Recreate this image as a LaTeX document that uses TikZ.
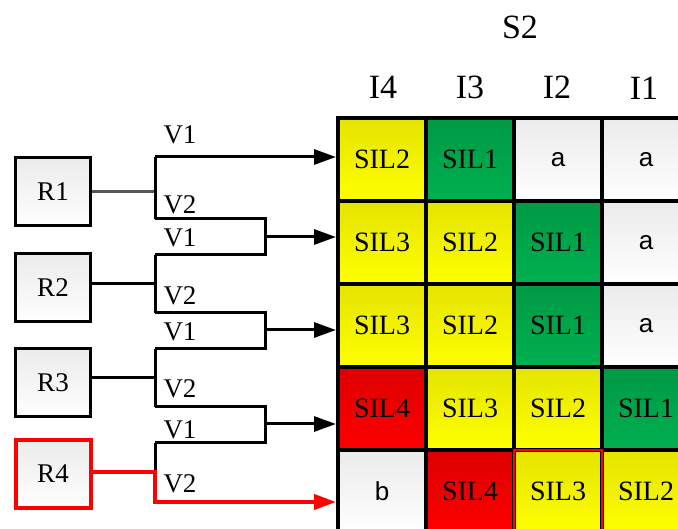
\documentclass[tikz,border=0pt]{standalone}
\usepackage{fontspec}
\setmainfont{Liberation Serif}
\newfontfamily\cellsans{Liberation Sans}
\usetikzlibrary{arrows.meta}

\definecolor{yeltop}{HTML}{E4E400}
\definecolor{yelbot}{HTML}{FFFF00}
\definecolor{grntop}{HTML}{009944}
\definecolor{grnbot}{HTML}{00B050}
\definecolor{redtop}{HTML}{DD0000}
\definecolor{redbot}{HTML}{FF0000}
\definecolor{gratop}{HTML}{EBEBEB}
\definecolor{wiregray}{HTML}{555555}

\tikzset{
  rbox/.style={draw, line width=3pt, top color=gratop, bottom color=white,
    minimum width=75pt, minimum height=68pt, inner sep=0pt,
    font=\fontsize{27}{31}\selectfont},
  cell/.style={draw, line width=3.5pt, minimum width=88pt, minimum height=83pt,
    inner sep=0pt, outer sep=0pt, font=\fontsize{28}{33}\selectfont},
  silY/.style={cell, top color=yeltop, bottom color=yelbot},
  silG/.style={cell, top color=grntop, bottom color=grnbot},
  silR/.style={cell, top color=redtop, bottom color=redbot},
  silW/.style={cell, top color=gratop, bottom color=white,
    font=\cellsans\fontsize{26}{30}\selectfont},
  wire/.style={line width=3pt},
  arr/.style={wire, -{Triangle[length=22pt,width=15pt]}},
  vlab/.style={font=\fontsize{27}{31}\selectfont},
  head/.style={font=\fontsize{34}{39}\selectfont}
}

\begin{document}
\begin{tikzpicture}[x=1pt,y=-1pt]
  \useasboundingbox (0,0) rectangle (678,529);
  \clip (0,0) rectangle (678,529);

  % Headers above the matrix
  \node[head] (s2) at (520,27) {S2};
  \node[head] (i4) at (383,87) {I4};
  \node[head] (i3) at (470,87) {I3};
  \node[head] (i2) at (557,87) {I2};
  \node[head] (i1) at (644,88) {I1};

  % Row 1
  \node[silY] (c11) at (382,159.5) {SIL2};
  \node[silG] (c12) at (470,159.5) {SIL1};
  \node[silW] (c13) at (558,159.5) {a};
  \node[silW] (c14) at (646,159.5) {a};
  % Row 2
  \node[silY] (c21) at (382,242.5) {SIL3};
  \node[silY] (c22) at (470,242.5) {SIL2};
  \node[silG] (c23) at (558,242.5) {SIL1};
  \node[silW] (c24) at (646,242.5) {a};
  % Row 3
  \node[silY] (c31) at (382,325.5) {SIL3};
  \node[silY] (c32) at (470,325.5) {SIL2};
  \node[silG] (c33) at (558,325.5) {SIL1};
  \node[silW] (c34) at (646,325.5) {a};
  % Row 4
  \node[silR] (c41) at (382,408.5) {SIL4};
  \node[silY] (c42) at (470,408.5) {SIL3};
  \node[silY] (c43) at (558,408.5) {SIL2};
  \node[silG] (c44) at (646,408.5) {SIL1};
  % Row 5
  \node[silW] (c51) at (382,491.5) {b};
  \node[silR] (c52) at (470,491.5) {SIL4};
  \node[silY] (c53) at (558,491.5) {SIL3};
  \node[silY] (c54) at (646,491.5) {SIL2};
  \draw[red, line width=2.5pt] (c53.north west) rectangle (c53.south east);

  % Rule boxes
  \node[rbox] (R1) at (53,192) {R1};
  \node[rbox] (R2) at (53,288) {R2};
  \node[rbox] (R3) at (53,383) {R3};
  \node[rbox, draw=red, line width=4pt] (R4) at (53,474) {R4};

  % Fork and merge points
  \coordinate (f1) at (155,192);
  \coordinate (f1t) at (155,157);
  \coordinate (f1b) at (155,219);
  \coordinate (f2) at (155,284);
  \coordinate (f2t) at (155,255);
  \coordinate (f2b) at (155,313);
  \coordinate (f3) at (155,378);
  \coordinate (f3t) at (155,349);
  \coordinate (f3b) at (155,407);
  \coordinate (f4) at (155,472);
  \coordinate (f4t) at (155,443);
  \coordinate (f4b) at (155,502);
  \coordinate (m1) at (265,237);
  \coordinate (m2) at (265,330);
  \coordinate (m3) at (265,424);
  \coordinate (e1) at (336,157);
  \coordinate (e2) at (336,237);
  \coordinate (e3) at (336,330);
  \coordinate (e4) at (336,424);
  \coordinate (e5) at (336,502);

  % Connectors
  \draw[wire, wiregray] (R1.east) -- (f1);
  \draw[wire] (R2.east |- f2) -- (f2);
  \draw[wire] (R3.east |- f3) -- (f3);
  \draw[wire] (f1t) -- (f1b);
  \draw[wire] (f2t) -- (f2b);
  \draw[wire] (f3t) -- (f3b);
  \draw[wire] (f4t) -- (f4);
  \draw[arr] (f1t) -- (e1);
  \draw[wire] (f1b) -| (m1) |- (f2t);
  \draw[wire] (f2b) -| (m2) |- (f3t);
  \draw[wire] (f3b) -| (m3) |- (f4t);
  \draw[arr] (m1) -- (e2);
  \draw[arr] (m2) -- (e3);
  \draw[arr] (m3) -- (e4);
  \draw[arr, red, line width=4pt] (R4.east |- f4) -- (f4) -- (f4b) -- (e5);

  % Branch labels
  \node[vlab] (v11) at (180,135) {V1};
  \node[vlab] (v12) at (180,205) {V2};
  \node[vlab] (v21) at (180,238) {V1};
  \node[vlab] (v22) at (180,296) {V2};
  \node[vlab] (v31) at (180,332) {V1};
  \node[vlab] (v32) at (180,389) {V2};
  \node[vlab] (v41) at (180,430) {V1};
  \node[vlab] (v42) at (180,484) {V2};
\end{tikzpicture}
\end{document}
